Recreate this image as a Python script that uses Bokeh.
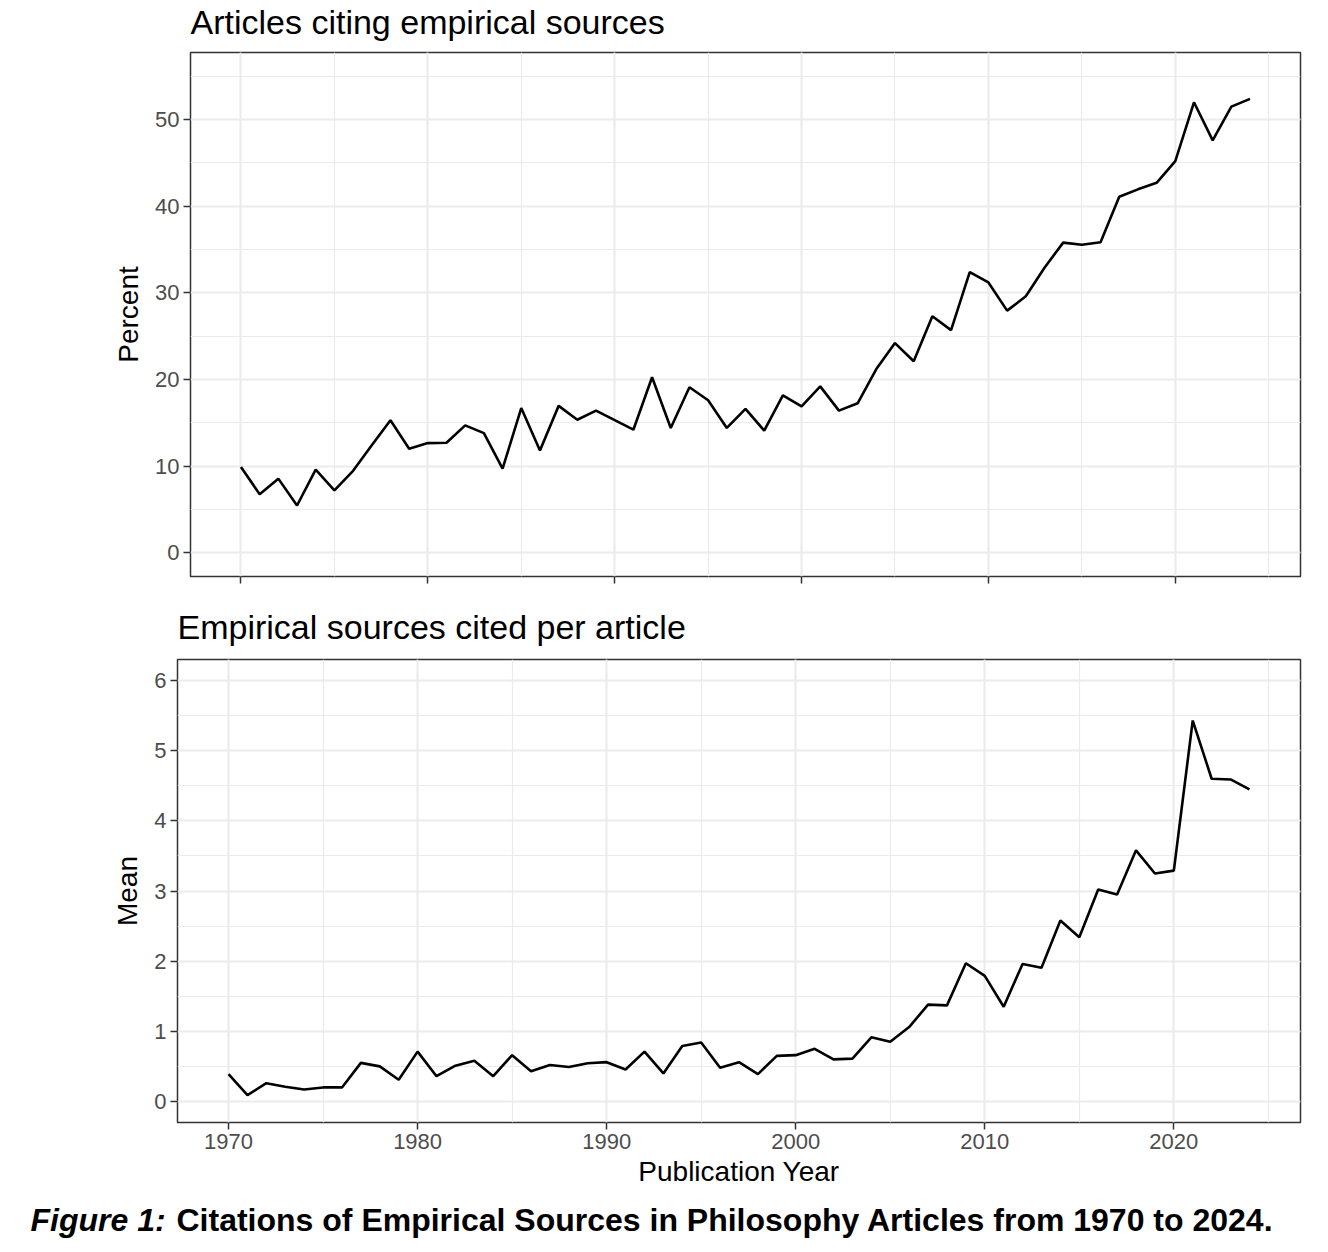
from bokeh.plotting import figure
from bokeh.models import Range1d, SingleIntervalTicker, ColumnDataSource
from bokeh.embed import file_html
from bokeh.resources import INLINE
from bokeh.core.properties import value

years = list(range(1970, 2025))

percent = [9.9, 6.75, 8.55, 5.45, 9.6, 7.2, 9.45, 12.4, 15.3, 12.0,
           12.65, 12.7, 14.7, 13.8, 9.7, 16.7, 11.8, 16.95, 15.35, 16.4,
           15.3, 14.2, 20.25, 14.4, 19.1, 17.6, 14.4, 16.6, 14.1, 18.15,
           16.9, 19.2, 16.4, 17.25, 21.2, 24.2, 22.1, 27.3, 25.7, 32.4,
           31.2, 27.95, 29.6, 32.9, 35.8, 35.55, 35.85, 41.1, 41.95, 42.7,
           45.2, 52.0, 47.6, 51.5, 52.4]

mean = [0.39, 0.09, 0.26, 0.21, 0.17, 0.20, 0.20, 0.55, 0.50, 0.31,
        0.71, 0.36, 0.51, 0.58, 0.36, 0.66, 0.43, 0.52, 0.49, 0.545,
        0.56, 0.455, 0.71, 0.40, 0.79, 0.84, 0.48, 0.56, 0.39, 0.65,
        0.66, 0.75, 0.60, 0.61, 0.915, 0.85, 1.06, 1.38, 1.37, 1.97,
        1.79, 1.35, 1.96, 1.905, 2.58, 2.34, 3.02, 2.95, 3.58, 3.25,
        3.29, 5.43, 4.60, 4.59, 4.45]

title_top = "Articles citing empirical sources"
title_bottom = "Empirical sources cited per article"
ylabel_top = "Percent"
ylabel_bottom = "Mean"
xlabel = "Publication Year"
caption_italic = "Figure 1:"
caption_rest = "Citations of Empirical Sources in Philosophy Articles from 1970 to 2024."

FONT = "Liberation Sans"
W = 1328
src = ColumnDataSource(dict(year=years, percent=percent, mean=mean))


def text_strip(height):
    t = figure(width=W, height=height, x_range=Range1d(0, W), y_range=Range1d(0, height),
               output_backend="svg", toolbar_location=None, x_axis_type=None,
               y_axis_type=None, min_border=0)
    t.grid.visible = False
    t.outline_line_color = None
    t.background_fill_color = "white"
    t.border_fill_color = "white"
    return t


def style(p, yinterval, show_xlabels):
    xt = SingleIntervalTicker(interval=10, num_minor_ticks=2)
    yt = SingleIntervalTicker(interval=yinterval, num_minor_ticks=2)
    p.xaxis.ticker = xt
    p.yaxis.ticker = yt
    p.xgrid.ticker = xt
    p.ygrid.ticker = yt
    for g in (p.xgrid, p.ygrid):
        g.grid_line_color = "#EBEBEB"
        g.grid_line_width = 2
        g.minor_grid_line_color = "#EBEBEB"
        g.minor_grid_line_width = 1.2
    for ax in (p.xaxis, p.yaxis):
        ax.axis_line_color = None
        ax.major_tick_out = 7
        ax.major_tick_in = 0
        ax.major_tick_line_color = "#333333"
        ax.major_tick_line_width = 1.5
        ax.minor_tick_line_color = None
        ax.major_label_text_font = FONT
        ax.major_label_text_font_size = "22px"
        ax.major_label_text_color = "#4D4D4D"
        ax.major_label_standoff = 4
        ax.axis_label_text_font = FONT
        ax.axis_label_text_font_size = "28px"
        ax.axis_label_text_font_style = "normal"
        ax.axis_label_text_color = "black"
        ax.axis_label_standoff = 8
    if not show_xlabels:
        p.xaxis.major_label_text_color = None
    p.outline_line_color = "#333333"
    p.outline_line_width = 1.5
    p.background_fill_color = "white"
    p.border_fill_color = "white"


x_lo, x_hi = 1967.3, 2026.7

# top panel title strip
t1 = text_strip(50)
t1.text(x=[190], y=[28.5], text=[title_top], text_font=value(FONT), text_font_size="34px",
        text_color="black", text_baseline="alphabetic", text_align="left")

p1 = figure(width=W, height=556, x_range=Range1d(x_lo, x_hi),
            y_range=Range1d(-2.75, 57.75), output_backend="svg",
            toolbar_location=None, min_border_left=190, min_border_right=28,
            min_border_top=2, min_border_bottom=30, title=None)
style(p1, 10, False)
p1.yaxis.axis_label = ylabel_top
p1.line(x="year", y="percent", source=src, line_color="black", line_width=2.6)

# bottom panel title strip
t2 = text_strip(51)
t2.text(x=[177], y=[31], text=[title_bottom], text_font=value(FONT), text_font_size="34px",
        text_color="black", text_baseline="alphabetic", text_align="left")

p2 = figure(width=W, height=541, x_range=Range1d(x_lo, x_hi),
            y_range=Range1d(-0.3, 6.3), output_backend="svg",
            toolbar_location=None, min_border_left=177, min_border_right=28,
            min_border_top=2, min_border_bottom=76, title=None)
style(p2, 1, True)
p2.yaxis.axis_label = ylabel_bottom
p2.xaxis.axis_label = xlabel
p2.xaxis.axis_label_standoff = 4
p2.line(x="year", y="mean", source=src, line_color="black", line_width=2.6)

# caption strip
p3 = text_strip(50)
p3.text(x=[30], y=[28.5], text=[caption_italic], text_font=value(FONT),
        text_font_size="32px", text_font_style="bold italic", text_color="black",
        text_baseline="alphabetic", text_align="left")
p3.text(x=[176], y=[28.5], text=[caption_rest], text_font=value(FONT),
        text_font_size="32px", text_font_style="bold", text_color="black",
        text_baseline="alphabetic", text_align="left")

open("out.html", "w").write(file_html([t1, p1, t2, p2, p3], INLINE))
